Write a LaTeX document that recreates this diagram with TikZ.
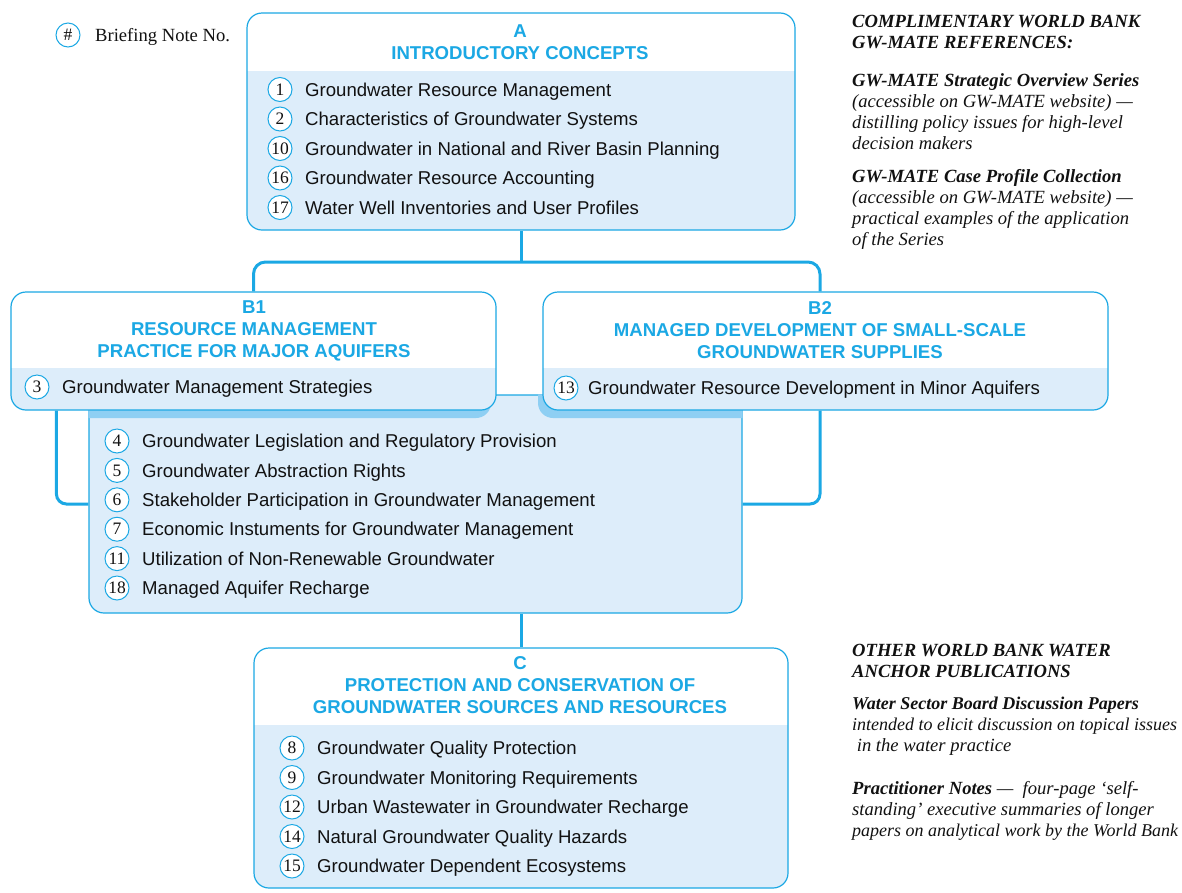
\documentclass[tikz,border=0pt]{standalone}
\usepackage{fontspec}
\setmainfont{Liberation Serif}
\setsansfont{Liberation Sans}
\usetikzlibrary{calc}
\definecolor{wbcyan}{HTML}{1BA8E4}
\definecolor{wbbody}{HTML}{DDEDFA}
\definecolor{wbshadow}{HTML}{8ECFF3}
\definecolor{wbtext}{HTML}{111111}
\begin{document}
\begin{tikzpicture}[x=1pt,y=-1pt,
 box/.style={draw=wbcyan, line width=1.2pt, fill=wbbody, rounded corners=15pt, inner sep=0pt},
 hdrbox/.style={box, path picture={\fill[white, sharp corners] (path picture bounding box.north west) rectangle ([yshift=-#1]path picture bounding box.north east);}},
 conn/.style={draw=wbcyan, line width=3pt},
 num/.style={circle, draw=wbcyan, line width=1pt, fill=white, minimum size=24pt, inner sep=0pt, font=\fontsize{17.5}{17.5}\selectfont\rmfamily, text=wbtext},
 item/.style={anchor=west, inner sep=0pt, font=\fontsize{18.6}{22}\selectfont\sffamily, text=wbtext, text height=13.3pt, text depth=0pt},
 head/.style={align=center, inner sep=0pt, font=\fontsize{18.6}{22}\selectfont\sffamily\bfseries, text=wbcyan},
 side/.style={anchor=base west, inner sep=0pt, font=\fontsize{18.6}{21.5}\selectfont\rmfamily\itshape, text=wbtext},
 sidenarrow/.style={side, font=\fontsize{18}{21.5}\selectfont\rmfamily\itshape},
]
\useasboundingbox (0,0) rectangle (1182,892);

% legend
\node[num] (leg) at (68,35) {\#};
\node[side, font=\fontsize{18.6}{21.5}\selectfont\rmfamily] (legt) at (95,41) {Briefing Note No.};

% boxes
\node[box, minimum width=653pt, minimum height=218pt] (M) at (415.5,504) {};
\begin{scope}
  \clip[rounded corners=15pt] (M.north west) rectangle (M.south east);
  \fill[wbshadow, rounded corners=15pt] (6,300) rectangle (491,418);
  \fill[wbshadow, rounded corners=15pt] (538,300) rectangle (1103,418);
\end{scope}
\node[hdrbox=76pt, minimum width=485pt, minimum height=118pt] (B1) at (253.5,351) {};
\node[hdrbox=76pt, minimum width=565pt, minimum height=118pt] (B2) at (825.5,351) {};
\node[hdrbox=58pt, minimum width=548pt, minimum height=217pt] (A) at (521,121.5) {};
\node[hdrbox=77pt, minimum width=534pt, minimum height=240pt] (C) at (521,768) {};

% connectors
\coordinate (hbar) at (520,262);
\draw[conn] (A.south) -- (A.south |- hbar);
\draw[conn, rounded corners=12pt] (B1.north) |- (hbar) -| ([xshift=-5.5pt]B2.north);
\draw[conn, rounded corners=10pt] ([xshift=46pt]B1.south west) |- (M.west);
\draw[conn, rounded corners=10pt] ([xshift=-5.5pt]B2.south) |- (M.east);
\draw[conn] (C.north) -- (C.north |- M.south);

% headings
\node[head] (Ah) at (520,42) {A\\INTRODUCTORY CONCEPTS};
\node[head] (B1h) at (254,331) {B1\\RESOURCE MANAGEMENT\\PRACTICE FOR MAJOR AQUIFERS};
\node[head] (B2h) at (820,330) {B2\\MANAGED DEVELOPMENT OF SMALL-SCALE\\GROUNDWATER SUPPLIES};
\node[head] (Ch) at (520,685) {C\\PROTECTION AND CONSERVATION OF\\GROUNDWATER SOURCES AND RESOURCES};

% items A
\foreach \n/\t [count=\i] in {1/Groundwater Resource Management, 2/Characteristics of Groundwater Systems, 10/Groundwater in National and River Basin Planning, 16/Groundwater Resource Accounting, 17/Water Well Inventories and User Profiles}{
  \node[num] (an\i) at (280,{89.5+29.5*(\i-1)}) {\n};
  \node[item] (at\i) at (305,{89.5+29.5*(\i-1)}) {\t};
}
% B1, B2
\node[num] (b1n) at (37,387) {3};
\node[item] (b1t) at (62,387) {Groundwater Management Strategies};
\node[num] (b2n) at (566,388) {13};
\node[item] (b2t) at (588,388) {Groundwater Resource Development in Minor Aquifers};
% middle
\foreach \n/\t [count=\i] in {4/Groundwater Legislation and Regulatory Provision, 5/Groundwater Abstraction Rights, 6/Stakeholder Participation in Groundwater Management, 7/Economic Instuments for Groundwater Management, 11/Utilization of Non-Renewable Groundwater, 18/Managed Aquifer Recharge}{
  \node[num] (mn\i) at (117,{441+29.4*(\i-1)}) {\n};
  \node[item] (mt\i) at (142,{441+29.4*(\i-1)}) {\t};
}
% C
\foreach \n/\t [count=\i] in {8/Groundwater Quality Protection, 9/Groundwater Monitoring Requirements, 12/Urban Wastewater in Groundwater Recharge, 14/Natural Groundwater Quality Hazards, 15/Groundwater Dependent Ecosystems}{
  \node[num] (cn\i) at (292,{748+29.5*(\i-1)}) {\n};
  \node[item] (ct\i) at (317,{748+29.5*(\i-1)}) {\t};
}

% side notes
\node[side] (r1) at (852,27) {\bfseries COMPLIMENTARY WORLD BANK};
\node[side] (r2) at (852,48) {\bfseries GW-MATE REFERENCES:};
\node[side] (r3) at (852,86) {\bfseries GW-MATE Strategic Overview Series};
\node[side] (r4) at (852,107) {(accessible on GW-MATE website) ---};
\node[side] (r5) at (852,128) {distilling policy issues for high-level};
\node[side] (r6) at (852,149) {decision makers};
\node[side] (r7) at (852,182) {\bfseries GW-MATE Case Profile Collection};
\node[side] (r8) at (852,203) {(accessible on GW-MATE website) ---};
\node[side] (r9) at (852,224) {practical examples of the application};
\node[side] (r10) at (852,245) {of the Series};
\node[side] (r11) at (852,656) {\bfseries OTHER WORLD BANK WATER};
\node[side] (r12) at (852,677) {\bfseries ANCHOR PUBLICATIONS};
\node[sidenarrow] (r13) at (852,709) {\bfseries Water Sector Board Discussion Papers};
\node[sidenarrow] (r14) at (852,730) {intended to elicit discussion on topical issues};
\node[side] (r15) at (852,751) {\ in the water practice};
\node[side] (r16) at (852,794) {\textbf{Practitioner Notes} ---\ \ four-page ‘self-};
\node[side] (r17) at (852,815) {standing’ executive summaries of longer};
\node[sidenarrow] (r18) at (852,836) {papers on analytical work by the World Bank};
\end{tikzpicture}
\end{document}
